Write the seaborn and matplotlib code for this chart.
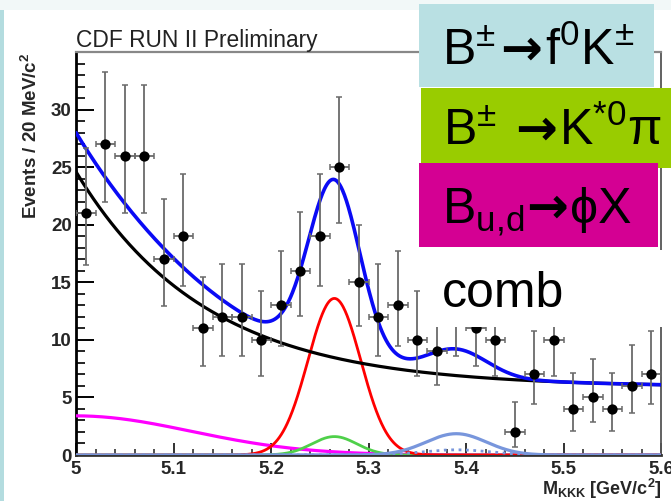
import numpy as np
import pandas as pd
import matplotlib
matplotlib.use("Agg")
import matplotlib.pyplot as plt
import seaborn as sns
from matplotlib.patches import Rectangle
from matplotlib.ticker import MultipleLocator, FuncFormatter

# ---- data: events per 20 MeV/c^2 bin ----
bin_centers = [5.01, 5.03, 5.05, 5.07, 5.09, 5.11, 5.13, 5.15, 5.17, 5.19,
               5.21, 5.23, 5.25, 5.27, 5.29, 5.31, 5.33, 5.35, 5.37, 5.39,
               5.41, 5.43, 5.45, 5.47, 5.49, 5.51, 5.53, 5.55, 5.57, 5.59]
counts = [21, 27, 26, 26, 17, 19, 11, 12, 12, 10,
          13, 16, 19, 25, 15, 12, 13, 10, 9, 12,
          11, 10, 2, 7, 10, 4, 5, 4, 6, 7]
# 68% Poisson interval edges for each bin
band_low = [16.50, 21.98, 21.06, 21.06, 12.94, 14.71, 7.74, 8.59, 8.59, 6.89,
            9.44, 12.06, 14.71, 20.14, 11.18, 8.59, 9.44, 6.89, 6.06, 8.59,
            7.74, 6.89, 0.71, 4.42, 6.89, 2.09, 2.84, 2.09, 3.62, 4.42]
band_high = [26.66, 33.24, 32.15, 32.15, 22.21, 24.44, 15.42, 16.56, 16.56, 14.27,
             17.70, 21.09, 24.44, 31.06, 19.96, 16.56, 17.70, 14.27, 13.11, 16.56,
             15.42, 14.27, 4.64, 10.77, 14.27, 7.16, 8.38, 7.16, 9.58, 10.77]
bin_half_width = 0.01

# ---- fit model parameters ----
comb_level, comb_amp, comb_decay = 5.9, 18.7, 0.133
gauss_names = ["signal", "K*0pi", "f0K", "f0K_tail", "phiX"]
gauss_amp = [13.6, 1.6, 1.85, 0.45, 3.4]
gauss_mean = [5.265, 5.265, 5.39, 5.39, 5.0]
gauss_sigma = [0.027, 0.023, 0.031, 0.035, 0.118]

x_ticks = [5.0, 5.1, 5.2, 5.3, 5.4, 5.5, 5.6]
y_ticks = [0, 5, 10, 15, 20, 25, 30]

W, H = 671, 501

sns.set_style("ticks")
plt.rcParams["font.family"] = ["Liberation Sans", "DejaVu Sans"]
plt.rcParams["mathtext.fontset"] = "custom"
plt.rcParams["mathtext.rm"] = "Liberation Sans"
plt.rcParams["mathtext.it"] = "Liberation Sans:italic"
plt.rcParams["mathtext.bf"] = "Liberation Sans:bold"

fig = plt.figure(figsize=(W / 100, H / 100), dpi=100)
fig.patch.set_facecolor("white")


def px_box(x0, y0, x1, y1):
    return (x0 / W, 1 - y1 / H), (x1 - x0) / W, (y1 - y0) / H


ax = fig.add_axes([76 / W, 1 - 455 / H, 585 / W, 403 / H])
ax.set_facecolor("white")

# evaluate fit components
mass = np.linspace(5.0, 5.6, 901)
comp = {"comb": comb_level + comb_amp * np.exp(-(mass - 5.0) / comb_decay)}
for n, a, m, s in zip(gauss_names, gauss_amp, gauss_mean, gauss_sigma):
    comp[n] = a * np.exp(-0.5 * ((mass - m) / s) ** 2)
total = sum(comp.values())

curves = pd.DataFrame({"mass": mass, **comp, "total": total})

styles = [
    ("phiX", "#ff00ff", 2.3, "-"),
    ("K*0pi", "#4fd04a", 2.0, "-"),
    ("signal", "#ff0000", 2.0, "-"),
    ("f0K_tail", "#7896dc", 2.0, ":"),
    ("f0K", "#7896dc", 2.3, "-"),
    ("comb", "black", 2.3, "-"),
    ("total", "#0a0af5", 2.6, "-"),
]
for col, c, lw, ls in styles:
    sns.lineplot(data=curves, x="mass", y=col, color=c, lw=lw, linestyle=ls,
                 ax=ax, estimator=None, zorder=3)

# data points with error bars
yerr = [np.array(counts) - np.array(band_low), np.array(band_high) - np.array(counts)]
ax.errorbar(bin_centers, counts, yerr=yerr, xerr=bin_half_width, fmt="none",
            ecolor="#6a6a6a", elinewidth=1.3, capsize=2.5, capthick=1.1, zorder=4)
sns.scatterplot(x=bin_centers, y=counts, color="black", s=55, edgecolor="black",
                linewidth=0, ax=ax, zorder=5)

ax.set_xlim(5.0, 5.6)
ax.set_ylim(0, 35)
ax.set_xlabel("")
ax.set_ylabel("")
ax.xaxis.set_minor_locator(MultipleLocator(0.02))
ax.yaxis.set_minor_locator(MultipleLocator(1))
ax.set_xticks(x_ticks)
ax.set_yticks(y_ticks)
ax.xaxis.set_major_formatter(FuncFormatter(lambda v, p: f"{v:g}"))

ax.tick_params(axis="y", which="major", direction="in", length=13, width=1.4,
               color="black", labelsize=13.5, pad=3)
ax.tick_params(axis="y", which="minor", direction="in", length=6.5, width=1.2,
               color="black")
ax.tick_params(axis="x", which="major", direction="in", length=9, width=1.3,
               color="#222222", labelsize=13.5, pad=4)
ax.tick_params(axis="x", which="minor", direction="in", length=4.5, width=1.1,
               color="#222222")
for lab in ax.get_xticklabels() + ax.get_yticklabels():
    lab.set_fontweight("bold")

ax.spines["left"].set_linewidth(2.0)
ax.spines["left"].set_color("black")
ax.spines["bottom"].set_linewidth(2.0)
ax.spines["bottom"].set_color("#333333")
ax.spines["top"].set_linewidth(1.6)
ax.spines["top"].set_color("#888888")
ax.spines["right"].set_linewidth(1.3)
ax.spines["right"].set_color("#555555")

# axis titles
fig.text(76 / W, 1 - 47 / H, "CDF RUN II Preliminary", fontsize=16.4,
         color="#222222", ha="left", va="baseline")
fig.text(31 / W, 1 - 53 / H, "Events / 20 MeV/c$^{\\mathbf{2}}$", fontsize=13.5,
         fontweight="bold", rotation=90, ha="center", va="top")
fig.text(662 / W, 1 - 495 / H, "M$_{\\mathbf{KKK}}$ [GeV/c$^{\\mathbf{2}}$]",
         fontsize=13, fontweight="bold", ha="right", va="baseline")

# frame strips
for (x0, y0, x1, y1), c in [((0, 0, 671, 10), "#f2f8f8"),
                            ((0, 10, 4, 501), "#b3dcdf")]:
    xy, w, h = px_box(x0, y0, x1, y1)
    fig.patches.append(Rectangle(xy, w, h, transform=fig.transFigure,
                                 facecolor=c, edgecolor="none", zorder=1))

# legend boxes
boxes = [
    ((425, 250, 671, 327), "white"),
    ((419, 4, 654, 87), "#b9e0e3"),
    ((421, 88, 671, 168), "#99cc00"),
    ((419, 163, 658, 247), "#d40093"),
]
for (x0, y0, x1, y1), c in boxes:
    xy, w, h = px_box(x0, y0, x1, y1)
    fig.patches.append(Rectangle(xy, w, h, transform=fig.transFigure,
                                 facecolor=c, edgecolor="none", zorder=1))

renderer = fig.canvas.get_renderer()
ARROW = {"family": ["DejaVu Sans"], "fontweight": "semibold"}


def run_text(x_px, y_px, pieces):
    """Lay out text pieces one after another on a common baseline."""
    x = x_px
    for txt, kw, gap in pieces:
        x += gap
        t = fig.text(x / W, 1 - y_px / H, txt, fontsize=36, color="black",
                     ha="left", va="baseline", zorder=3, **kw)
        x = t.get_window_extent(renderer).x1


run_text(442, 65, [("B$^{\\pm}$", {}, 0), ("→", ARROW, 4),
                   ("f$^{0}$K$^{\\pm}$", {}, 3)])
run_text(443, 145, [("B$^{\\pm}$", {}, 0), ("→", ARROW, 18),
                    ("K$^{*0}$π", {}, 2)])
run_text(442, 223, [("B$_{\\mathrm{u{,}d}}$", {}, 0), ("→", ARROW, 2),
                    ("ϕX", {}, 2)])
run_text(442, 307, [("comb", {}, 0)])

fig.savefig("out.png", dpi=100)
